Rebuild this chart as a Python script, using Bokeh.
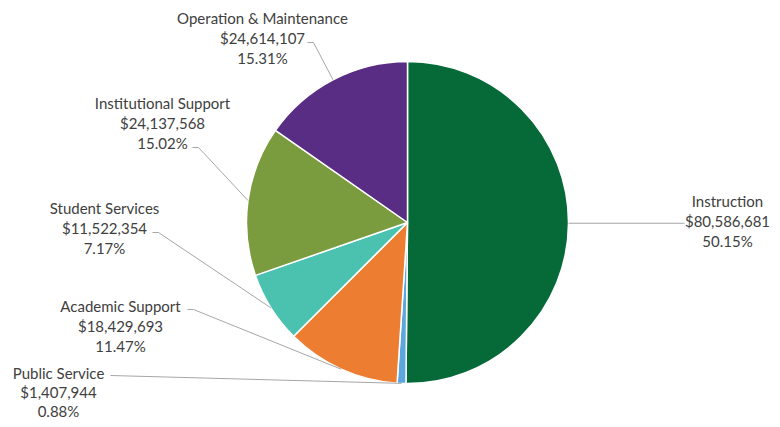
import math
from bokeh.plotting import figure
from bokeh.models import Range1d, ColumnDataSource
from bokeh.core.properties import value
from bokeh.embed import file_html
from bokeh.resources import INLINE

categories = ["Instruction", "Public Service", "Academic Support", "Student Services",
              "Institutional Support", "Operation & Maintenance"]
amounts = [80586681, 1407944, 18429693, 11522354, 24137568, 24614107]
percents = [50.15, 0.88, 11.47, 7.17, 15.02, 15.31]
colors = ["#066A38", "#5BA7DE", "#ED7D31", "#4BC2AF", "#7A9B3E", "#5A2D84"]

# layout (reference pixel coords, y down)
W, H = 772, 419
CX, CY, R = 407, 222, 161
label_pos = [(727, 200), (58, 372), (120, 305), (104, 207), (162, 102), (262, 17)]
label_gap = [20.3, 19.3, 20.3, 20.3, 20.3, 20.3]
anchor_pts = [None, (110, 375), (187, 309), (152, 232), (192, 147), (307, 42)]


def fy(y):
    return H - y


p = figure(width=W, height=H, output_backend="svg", toolbar_location=None,
           x_range=Range1d(0, W), y_range=Range1d(0, H),
           min_border=0)
p.axis.visible = False
p.grid.visible = False
p.outline_line_color = None
p.background_fill_color = "white"

total = sum(percents)
cum = 0.0
starts, ends, mids = [], [], []
for pc in percents:
    a0 = math.pi / 2 - 2 * math.pi * cum / total
    cum += pc
    a1 = math.pi / 2 - 2 * math.pi * cum / total
    starts.append(a0)
    ends.append(a1)
    mids.append((a0 + a1) / 2)

src = ColumnDataSource(dict(x=[CX] * len(categories), y=[fy(CY)] * len(categories),
                            start=starts, end=ends, color=colors))
p.wedge(x="x", y="y", radius=R, start_angle="start", end_angle="end", direction="clock",
        fill_color="color", line_color="white", line_width=1.5, source=src)

# leader lines
for i, m in enumerate(mids):
    px = CX + R * math.cos(m)
    py = fy(CY) + R * math.sin(m)
    if i == 0:
        xs = [px, 684]
        ys = [py, py]
    else:
        ax, ay = anchor_pts[i]
        if i == 1:
            xs = [ax, px]
            ys = [fy(ay), py]
        else:
            xs = [ax, ax + 6, px]
            ys = [fy(ay), fy(ay), py]
    p.line(xs, ys, line_color="#A6A6A6", line_width=1)

# labels
tx, ty, tt = [], [], []
for i, cat in enumerate(categories):
    lx, ly = label_pos[i]
    lines = [cat, f"${amounts[i]:,}", f"{percents[i]:.2f}%"]
    for k, s in enumerate(lines):
        tx.append(lx)
        ty.append(fy(ly + k * label_gap[i]))
        tt.append(s)
p.text(x=tx, y=ty, text=tt, text_align="center", text_baseline="middle",
       text_font=value("Lato"), text_font_size="15px", text_color="#404040")

open("out.html", "w").write(file_html(p, INLINE))
